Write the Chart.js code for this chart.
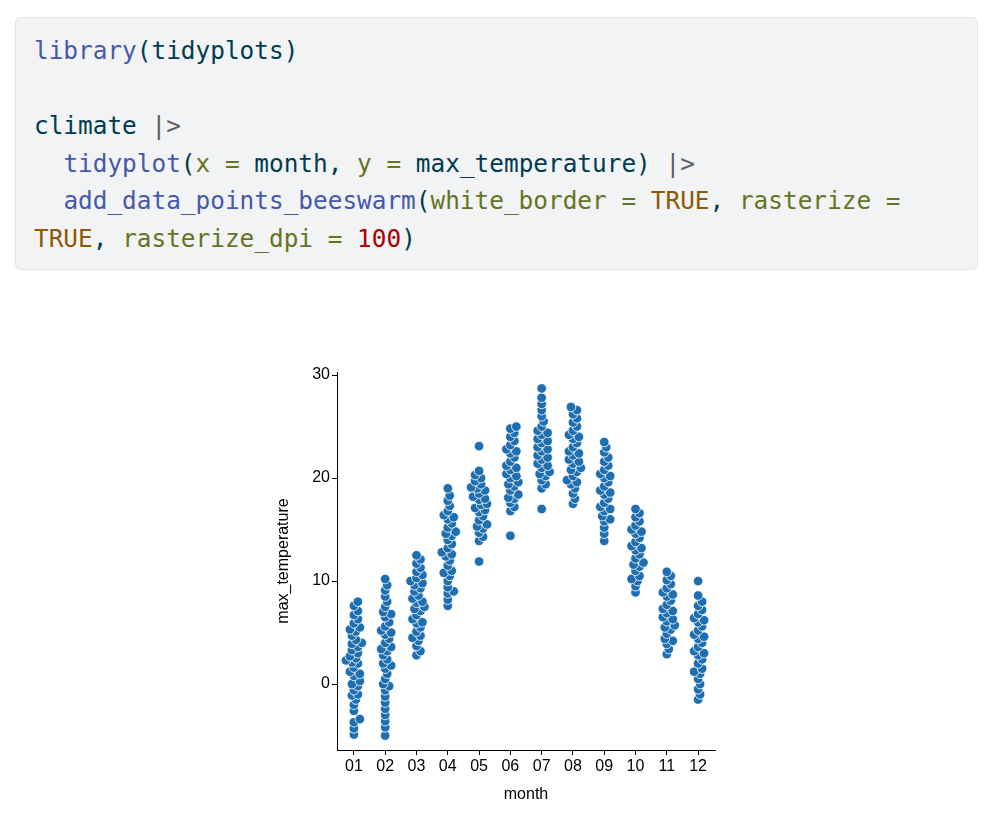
<!DOCTYPE html>
<html>
<head>
<meta charset="utf-8">
<script src="https://cdn.jsdelivr.net/npm/chart.js"></script>
<style>
  body { margin: 0; background: #fff; width: 1000px; height: 823px; position: relative; overflow: hidden; }
  pre.code {
    position: absolute; left: 15px; top: 17px; width: 963px; height: 253px; margin: 0;
    box-sizing: border-box; padding: 14px 0 0 18px;
    background: #f1f3f5; border: 1px solid #e3e5e8; border-radius: 6px;
    font-family: "DejaVu Sans Mono", monospace; font-size: 24.4px; line-height: 37.5px;
    color: #003B4F; white-space: pre;
  }
  .fn { color: #4758AB; }
  .ar { color: #657422; }
  .cn { color: #8f5902; }
  .nu { color: #AD0000; }
  .op { color: #5E5E5E; }
  #wrap { position: absolute; left: 270px; top: 360px; width: 460px; height: 448px; }
</style>
</head>
<body>
<pre class="code"><span class="fn">library</span>(tidyplots)

climate <span class="op">|&gt;</span>
  <span class="fn">tidyplot</span>(<span class="ar">x =</span> month, <span class="ar">y =</span> max_temperature) <span class="op">|&gt;</span>
  <span class="fn">add_data_points_beeswarm</span>(<span class="ar">white_border =</span> <span class="cn">TRUE</span>, <span class="ar">rasterize =</span>
<span class="cn">TRUE</span>, <span class="ar">rasterize_dpi =</span> <span class="nu">100</span>)</pre>
<div id="wrap"><canvas id="c"></canvas></div>
<script>
const months = ['01','02','03','04','05','06','07','08','09','10','11','12'];
const jan = [-4.9,-4.3,-3.7,-3.4,-2.6,-2.0,-1.5,-1.1,-0.6,-0.2,0.3,0.8,1.2,1.6,2.0,2.3,2.7,3.0,3.3,3.6,4.0,4.3,4.7,5.1,5.5,5.9,6.3,6.7,7.1,7.6,8.0,1.0,2.5,3.9,5.3,-1.0,0.0,2.1];
const feb = [-5.0,-4.2,-3.6,-3.0,-2.4,-1.8,-1.2,-0.6,0.0,0.5,1.0,1.5,2.0,2.4,2.8,3.2,3.6,4.0,4.4,4.8,5.2,5.6,6.0,6.5,7.0,7.5,8.0,8.5,9.1,9.6,10.2,1.8,3.4,5.0,6.8,-0.2];
const mar = [2.8,3.2,3.7,4.2,4.7,5.1,5.5,5.9,6.3,6.7,7.1,7.5,7.9,8.3,8.6,9.0,9.3,9.6,10.0,10.3,10.6,10.9,11.3,11.7,12.1,12.5,6.0,8.0,9.8,4.5,7.3];
const apr = [7.6,8.2,8.8,9.4,10.0,10.5,11.0,11.5,12.0,12.4,12.8,13.2,13.6,14.0,14.4,14.8,15.2,15.6,16.0,16.4,16.8,17.3,17.8,18.3,19.0,10.8,12.6,14.6,16.2,9.0];
const may = [11.9,13.9,14.3,14.7,15.1,15.5,15.9,16.3,16.7,17.1,17.5,17.9,18.2,18.5,18.8,19.1,19.4,19.7,20.0,20.3,20.7,23.1,15.3,16.9,18.0,19.0,17.4];
const jun = [14.4,16.8,17.2,17.6,18.0,18.4,18.8,19.2,19.6,20.0,20.4,20.8,21.2,21.6,22.0,22.4,22.8,23.2,23.6,24.0,24.4,24.8,25.0,19.4,21.0,22.6,20.2,18.1];
const jul = [17.0,19.0,19.4,19.8,20.2,20.6,21.0,21.4,21.8,22.2,22.6,23.0,23.4,23.8,24.2,24.6,25.0,25.5,26.0,26.6,27.2,27.8,28.7,21.2,22.8,24.4,20.4,23.6,22.0];
const aug = [17.5,18.0,18.5,19.0,19.4,19.8,20.2,20.6,21.0,21.4,21.8,22.2,22.6,23.0,23.4,23.8,24.2,24.6,25.0,25.4,25.8,26.2,26.6,26.9,20.8,22.4,24.0,21.6,19.6];
const sep = [13.9,14.6,15.2,15.8,16.3,16.8,17.2,17.6,18.0,18.4,18.8,19.2,19.6,20.0,20.4,20.8,21.2,21.6,22.0,22.5,23.0,23.5,17.0,18.6,20.2,16.0];
const oct = [8.9,9.5,10.0,10.5,11.0,11.4,11.8,12.2,12.6,13.0,13.4,13.8,14.2,14.6,15.0,15.4,15.8,16.2,16.6,17.0,11.6,13.2,14.8,10.2];
const nov = [2.9,3.4,3.9,4.4,4.9,5.3,5.7,6.1,6.5,6.9,7.3,7.7,8.1,8.5,8.9,9.3,9.7,10.1,10.5,10.9,5.5,7.1,8.7,4.2,6.3];
const dec = [-1.5,-1.0,-0.5,0.0,0.5,1.0,1.5,2.0,2.4,2.8,3.2,3.6,4.0,4.4,4.8,5.2,5.6,6.0,6.4,6.8,7.2,7.6,8.0,8.6,10.0,1.2,3.0,4.6,6.2];
const monthValues = [jan,feb,mar,apr,may,jun,jul,aug,sep,oct,nov,dec];
const yTicks = [0, 10, 20, 30];

// simple beeswarm layout: px per unit on each axis (approx.), min spacing in px
const PX_X = 31.5, PX_Y = 10.3, MIN_D = 5.2, STEP = 2, MAX_OFF = 9;
function swarm(vals, center) {
  const placed = [];
  [...vals].sort((a, b) => a - b).forEach(v => {
    const yp = v * PX_Y;
    for (let k = 0; k < 40; k++) {
      const off = (k % 2 ? 1 : -1) * Math.ceil(k / 2) * STEP;
      if (Math.abs(off) >= MAX_OFF || placed.every(p => (p.xp - off) ** 2 + (p.yp - yp) ** 2 >= MIN_D * MIN_D)) {
        placed.push({ xp: Math.max(-MAX_OFF, Math.min(MAX_OFF, off)), yp });
        break;
      }
    }
  });
  return placed.map(p => ({ x: center + p.xp / PX_X, y: p.yp / PX_Y }));
}
const points = monthValues.flatMap((vals, i) => swarm(vals, i + 1));

const font = { family: '"Liberation Sans", Arial, sans-serif', size: 16 };
const axisGrid = { display: true, drawOnChartArea: false, drawTicks: true, tickLength: 5, color: '#000' };
new Chart(document.getElementById('c'), {
  type: 'scatter',
  data: { datasets: [{
    data: points,
    backgroundColor: '#1f6fb0',
    borderColor: 'rgba(255,255,255,0.8)',
    borderWidth: 1,
    pointRadius: 4.8
  }] },
  options: {
    animation: false, responsive: true, maintainAspectRatio: false,
    layout: { padding: { left: 0, right: 15, top: 12, bottom: 0 } },
    plugins: { legend: { display: false }, tooltip: { enabled: false } },
    scales: {
      x: {
        type: 'linear', min: 0.46, max: 12.54,
        afterBuildTicks: s => { s.ticks = months.map((m, i) => ({ value: i + 1 })); },
        afterFit: s => { s.height = 58; },
        ticks: { color: '#000', font, padding: 2, callback: v => months[v - 1] },
        grid: axisGrid,
        border: { color: '#000', width: 1 },
        title: { display: true, text: 'month', color: '#000', font, padding: { top: 0 } }
      },
      y: {
        min: -6.4, max: 30.3,
        afterBuildTicks: s => { s.ticks = yTicks.map(v => ({ value: v })); },
        afterFit: s => { s.width = 67; },
        ticks: { color: '#000', font, padding: 2 },
        grid: axisGrid,
        border: { color: '#000', width: 1 },
        title: { display: true, text: 'max_temperature', color: '#000', font, padding: { bottom: 2 } }
      }
    }
  }
});
</script>
</body>
</html>
